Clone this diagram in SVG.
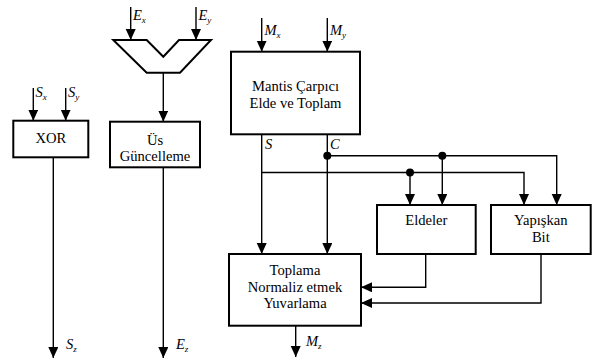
<svg xmlns="http://www.w3.org/2000/svg" width="592" height="360" viewBox="0 0 592 360">
<style>
.box{fill:#fff;stroke:#000;stroke-width:2}
.t{font-size:14.6px;fill:#000;text-anchor:middle}
.lb{font-size:14.5px;font-style:italic;fill:#000}
.sub{font-size:9px}
.w{fill:none;stroke:#000;stroke-width:1.4}
.dot{fill:#000}
</style>
<defs>
<marker id="ah" markerUnits="userSpaceOnUse" markerWidth="11" markerHeight="12" viewBox="0 0 11 12" refX="11" refY="5" orient="auto">
<path d="M0,0 L11,5 L0,10 Z" fill="#000"/>
</marker>
</defs>
<g id="connectors" class="w">
<path d="M33.3,88 V120.7" marker-end="url(#ah)"/>
<path d="M65.7,88 V120.7" marker-end="url(#ah)"/>
<path d="M53.3,157.3 V358" marker-end="url(#ah)"/>
<path d="M130.7,7 V40" marker-end="url(#ah)"/>
<path d="M196,7 V40" marker-end="url(#ah)"/>
<path d="M163.3,72.7 V121.7" marker-end="url(#ah)"/>
<path d="M163.3,167.3 V358" marker-end="url(#ah)"/>
<path d="M261.7,18 V51.7" marker-end="url(#ah)"/>
<path d="M327.3,18 V51.7" marker-end="url(#ah)"/>
<path d="M261.7,134.3 V254" marker-end="url(#ah)"/>
<path d="M327.3,134.3 V254" marker-end="url(#ah)"/>
<path d="M327.3,155.7 H556.7 V205" marker-end="url(#ah)"/>
<path d="M442.3,155.7 V205" marker-end="url(#ah)"/>
<path d="M261.7,172.5 H524 V205" marker-end="url(#ah)"/>
<path d="M410,172.5 V205" marker-end="url(#ah)"/>
<path d="M425.7,254 V287.3 H361" marker-end="url(#ah)"/>
<path d="M541,254 V303 H361" marker-end="url(#ah)"/>
<path d="M295.7,325.7 V357" marker-end="url(#ah)"/>
</g>
<g id="dots">
<circle class="dot" cx="327.3" cy="155.7" r="4"/>
<circle class="dot" cx="442.3" cy="155.7" r="4"/>
<circle class="dot" cx="410" cy="172.5" r="4"/>
</g>
<g font-family="Liberation Serif, DejaVu Serif, serif">
<g id="xor">
<rect class="box" x="13.3" y="120.7" width="75" height="36.6"/>
<text class="t" x="50.8" y="143">XOR</text>
</g>
<g id="subtractor">
<polygon class="box" points="113.3,40 146.7,40 163.3,56.7 179,40 211,40 180,72.7 146.7,72.7"/>
</g>
<g id="us">
<rect class="box" x="110" y="121.7" width="90" height="45.6"/>
<text class="t" x="155" y="145">Üs</text>
<text class="t" x="155" y="161">Güncelleme</text>
</g>
<g id="mantis">
<rect class="box" x="231" y="51.7" width="129" height="82.6"/>
<text class="t" x="295.5" y="91">Mantis Çarpıcı</text>
<text class="t" x="295.5" y="107.5">Elde ve Toplam</text>
</g>
<g id="eldeler">
<rect class="box" x="377" y="205" width="98.7" height="49"/>
<text class="t" x="426.3" y="225">Eldeler</text>
</g>
<g id="yapiskan">
<rect class="box" x="491" y="205" width="99.7" height="49"/>
<text class="t" x="540.8" y="225">Yapışkan</text>
<text class="t" x="540.8" y="241.5">Bit</text>
</g>
<g id="toplama">
<rect class="box" x="229" y="254" width="132" height="71.7"/>
<text class="t" x="295" y="275">Toplama</text>
<text class="t" x="295" y="291.5">Normaliz etmek</text>
<text class="t" x="295" y="308">Yuvarlama</text>
</g>
<g id="labels">
<text class="lb" x="35.5" y="97">S<tspan class="sub" dy="3">x</tspan></text>
<text class="lb" x="68" y="97">S<tspan class="sub" dy="3">y</tspan></text>
<text class="lb" x="133" y="20">E<tspan class="sub" dy="3">x</tspan></text>
<text class="lb" x="198.5" y="20">E<tspan class="sub" dy="3">y</tspan></text>
<text class="lb" x="264.5" y="35">M<tspan class="sub" dy="3">x</tspan></text>
<text class="lb" x="330" y="35">M<tspan class="sub" dy="3">y</tspan></text>
<text class="lb" x="265" y="149">S</text>
<text class="lb" x="330" y="149">C</text>
<text class="lb" x="66" y="349">S<tspan class="sub" dy="3">z</tspan></text>
<text class="lb" x="176" y="349">E<tspan class="sub" dy="3">z</tspan></text>
<text class="lb" x="306" y="346">M<tspan class="sub" dy="3">z</tspan></text>
</g>
</g>
</svg>
